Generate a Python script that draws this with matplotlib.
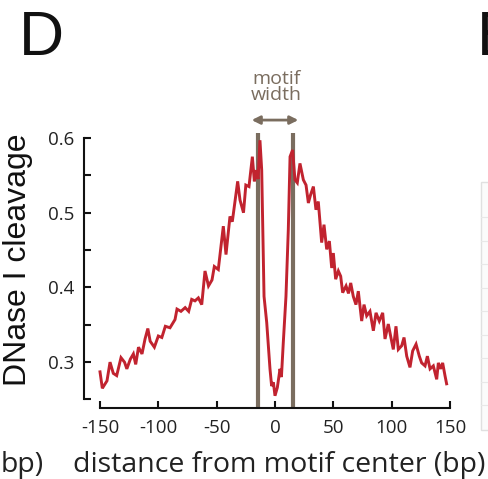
import matplotlib
matplotlib.use("Agg")
import matplotlib.pyplot as plt
from matplotlib.patches import Rectangle

plt.rcParams['axes.unicode_minus'] = False

# ---- data ----
x_bp = [-150, -148, -144, -141.4, -138.6, -135.7, -132, -129, -127, -124,
        -121.4, -119.4, -117, -114, -111.4, -109, -107, -103.4, -100, -97,
        -94, -90, -85.7, -84, -80.6, -77, -74, -71.4, -68.6, -65.7,
        -62.8, -60, -57, -54, -52, -48.6, -44.3, -42, -38.6, -36.6,
        -34.3, -32, -30, -27, -25, -22.3, -19.4, -17.7, -16.3, -14.5,
        -12.9, -11.4, -9.4, -7.1, -4.3, -2.9, -1.4, 0, 2, 4.3,
        5.5, 7.1, 9.4, 11.4, 12.9, 15.1, 17.1, 19.1, 21.4, 24.3,
        26.6, 28.6, 30.5, 32.9, 35.1, 37.1, 40, 42, 44.3, 46.6,
        48.6, 50, 52, 54.3, 56.3, 58, 60.9, 63, 64.9, 67.1,
        69.4, 71.4, 74.3, 76.3, 78.6, 81.4, 84.3, 86.6, 89.4, 92.3,
        94.3, 97.1, 99.1, 101.4, 103.7, 105.7, 108.6, 110.6, 112.9, 115.7,
        118, 120.9, 123.7, 125.7, 128.6, 130.6, 132.9, 135.7, 138.6, 140,
        142, 143.7, 145.7, 147.1]
cleavage = [0.287, 0.265, 0.275, 0.300, 0.285, 0.282, 0.306, 0.300, 0.291, 0.304,
            0.311, 0.297, 0.320, 0.311, 0.331, 0.345, 0.328, 0.320, 0.335, 0.333,
            0.348, 0.346, 0.357, 0.371, 0.368, 0.373, 0.368, 0.384, 0.382, 0.386,
            0.377, 0.422, 0.402, 0.410, 0.428, 0.424, 0.482, 0.444, 0.495, 0.488,
            0.515, 0.542, 0.517, 0.500, 0.537, 0.535, 0.575, 0.542, 0.557, 0.545,
            0.597, 0.557, 0.388, 0.353, 0.291, 0.268, 0.273, 0.255, 0.266, 0.291,
            0.280, 0.326, 0.388, 0.477, 0.575, 0.584, 0.544, 0.540, 0.566, 0.544,
            0.537, 0.513, 0.524, 0.535, 0.504, 0.515, 0.460, 0.484, 0.451, 0.462,
            0.426, 0.446, 0.411, 0.422, 0.415, 0.393, 0.402, 0.392, 0.406, 0.388,
            0.377, 0.395, 0.355, 0.377, 0.362, 0.368, 0.342, 0.366, 0.355, 0.366,
            0.331, 0.351, 0.335, 0.317, 0.348, 0.317, 0.322, 0.333, 0.308, 0.293,
            0.315, 0.324, 0.308, 0.299, 0.295, 0.308, 0.291, 0.295, 0.277, 0.299,
            0.291, 0.299, 0.282, 0.271]
motif_edges = [-15, 15]
x_ticks = [-150, -100, -50, 0, 50, 100, 150]
y_ticks = [0.25, 0.3, 0.35, 0.4, 0.45, 0.5, 0.55, 0.6]
y_ticklabels = ['', '0.3', '', '0.4', '', '0.5', '', '0.6']

W, H = 488, 479
fig = plt.figure(figsize=(W / 100, H / 100), dpi=100)
ax_h = 399.5 - 138
ax = fig.add_axes([100 / W, 1 - 399.5 / H, 350 / W, ax_h / H])

red = '#c1232f'
gray = '#7a6d5f'
tickfont = 'Open Sans'

for xe in motif_edges:
    ax.plot([xe, xe], [0.24, 0.607], color=gray, lw=3.0, clip_on=False,
            solid_capstyle='butt', zorder=2)
ax.plot(x_bp, cleavage, color=red, lw=2.1, zorder=3, clip_on=False,
        solid_joinstyle='miter')

ax.set_xlim(-150, 150)
ax.set_ylim(0.25, 0.6)
ax.set_xticks(x_ticks)
ax.set_xticklabels([str(t) for t in x_ticks])
ax.set_yticks(y_ticks)
ax.set_yticklabels(y_ticklabels)

for s in ['top', 'right']:
    ax.spines[s].set_visible(False)
ax.spines['left'].set_position(('outward', 16 * 0.72))
ax.spines['bottom'].set_position(('outward', 8.5 * 0.72))
for s in ['left', 'bottom']:
    ax.spines[s].set_linewidth(1.5)
    ax.spines[s].set_color('#111111')
ax.tick_params(axis='both', direction='in', length=5, width=1.5, color='#111111',
               labelcolor='#222222', labelsize=13.5, labelfontfamily=tickfont)
ax.tick_params(axis='x', pad=8)
ax.tick_params(axis='y', pad=7)

ax.set_ylabel('DNase I cleavage', fontfamily='Liberation Sans', fontsize=23,
              color='#111111')
ax.yaxis.set_label_coords(-0.191, (399.5 - 260) / ax_h)
ax.text(0.513, 0.0 - (472 - 399.5) / ax_h, 'distance from motif center (bp)',
        transform=ax.transAxes, ha='center', va='baseline',
        fontfamily=tickfont, fontsize=20.5, color='#222222')

# motif width annotation
ax.annotate('', xy=(-20, 0.624), xytext=(20, 0.624), annotation_clip=False,
            arrowprops=dict(arrowstyle='<|-|>', color=gray, lw=2,
                            mutation_scale=12, shrinkA=0, shrinkB=0))
ax.text(1.5, 0.645, 'motif\nwidth', ha='center', va='bottom', color=gray,
        fontfamily=tickfont, fontsize=14, linespacing=0.9)

# panel letters and neighbouring fragments
fig.text(19 / W, 1 - 55 / H, 'D', fontfamily='Liberation Sans', fontsize=45,
         va='baseline', ha='left', color='#111111')
fig.text(477 / W, 1 - 55 / H, 'E', fontfamily='Liberation Sans', fontsize=45,
         va='baseline', ha='left', color='#111111')
fig.text(1 / W, 1 - 472 / H, 'bp)', fontfamily=tickfont, fontsize=20.5,
         va='baseline', ha='left', color='#222222')
fig.patches.append(Rectangle((481 / W, 1 - 430 / H), 20 / W, 248 / H,
                             transform=fig.transFigure, facecolor='#fbfbfb',
                             edgecolor='#e0e0e0', lw=1))
for k in range(1, 10):
    yy = 1 - (182 + 35 + 23.5 * (k - 1)) / H
    fig.lines.append(plt.Line2D([481 / W, 1], [yy, yy], transform=fig.transFigure,
                                color='#e8e8e8', lw=0.8))

fig.savefig('out.png', dpi=100)
